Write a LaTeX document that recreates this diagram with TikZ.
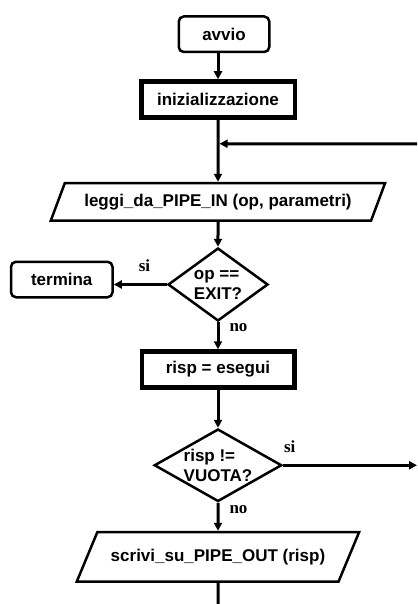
\documentclass[tikz,border=0pt]{standalone}
\usepackage{fontspec}
\setmainfont{Liberation Sans}
\newfontfamily\answerfont{Liberation Serif}
\usetikzlibrary{arrows.meta,positioning,shapes.geometric}

\begin{document}
\begin{tikzpicture}[x=1pt,y=-1pt,
  every node/.style={font=\fontsize{17}{20}\selectfont\bfseries},
  startbox/.style={draw,line width=2.5pt,rounded corners=5pt,
    minimum height=35.5pt},
  actionbox/.style={draw,line width=4.5pt,minimum width=152.5pt,
    minimum height=36pt},
  iobox/.style={draw,line width=2.5pt,trapezium,
    trapezium stretches=true},
  testbox/.style={draw,line width=2.5pt,diamond,inner sep=-8pt,
    align=left},
  flow/.style={line width=3pt,-{Triangle[length=8pt,width=8pt]}},
  answer/.style={font=\answerfont\fontsize{17}{19}\selectfont\bfseries,
    inner sep=2pt}]
  \useasboundingbox (0,0) rectangle (417,604);
  \node[actionbox,minimum width=153.5pt] (init) at (218,99.5)
    {inizializzazione};
  \node[startbox,minimum width=90.5pt,above=26pt of init,xshift=6pt]
    (avvio) {avvio};
  \coordinate[below=24pt of init] (loop);
  \coordinate (back) at (417,144);
  \node[iobox,trapezium left angle=61,trapezium right angle=119,
    minimum width=334.5pt,minimum height=37.5pt,below=62pt of init]
    (leggi) {leggi\_da\_PIPE\_IN (op, parametri)};
  \node[testbox,shape aspect=1.36,minimum width=100pt,minimum height=73pt,
    below=25pt of leggi]
    (exit) {op ==\\EXIT?};
  \node[startbox,minimum width=101.5pt,left=53pt of exit,yshift=5pt]
    (termina) {termina};
  \node[actionbox,below=27pt of exit] (esegui) {risp = esegui};
  \node[testbox,shape aspect=1.73,minimum width=127.5pt,
    minimum height=72.5pt,below=38pt of esegui]
    (vuota) {risp !=\\VUOTA?};
  \coordinate[right=134pt of vuota] (out);
  \node[iobox,trapezium left angle=50,trapezium right angle=130,
    minimum width=282.5pt,minimum height=49.5pt,below=28pt of vuota]
    (scrivi) {scrivi\_su\_PIPE\_OUT (risp)};
  \coordinate[below=21pt of scrivi] (fine);

  \draw[flow] (avvio.south -| init.north) -- (init);
  \draw[flow] (init) -- (leggi);
  \draw[flow,shorten >=1.5pt] (back) -- (loop);
  \draw[flow] (leggi) -- (exit);
  \draw[flow] (exit) -- node[answer,above=9pt,pos=0.42] {si}
    (exit.west -| termina.east);
  \draw[flow] (exit) -- node[answer,anchor=west,xshift=8pt,pos=0.2] {no}
    (esegui);
  \draw[flow] (esegui) -- (vuota);
  \draw[flow] (vuota) -- node[answer,above=9pt,pos=0.05] {si} (out);
  \draw[flow] (vuota) -- node[answer,anchor=west,xshift=8pt,pos=0.25] {no}
    (scrivi);
  \draw[line width=3pt] (scrivi) -- (fine);
\end{tikzpicture}
\end{document}
